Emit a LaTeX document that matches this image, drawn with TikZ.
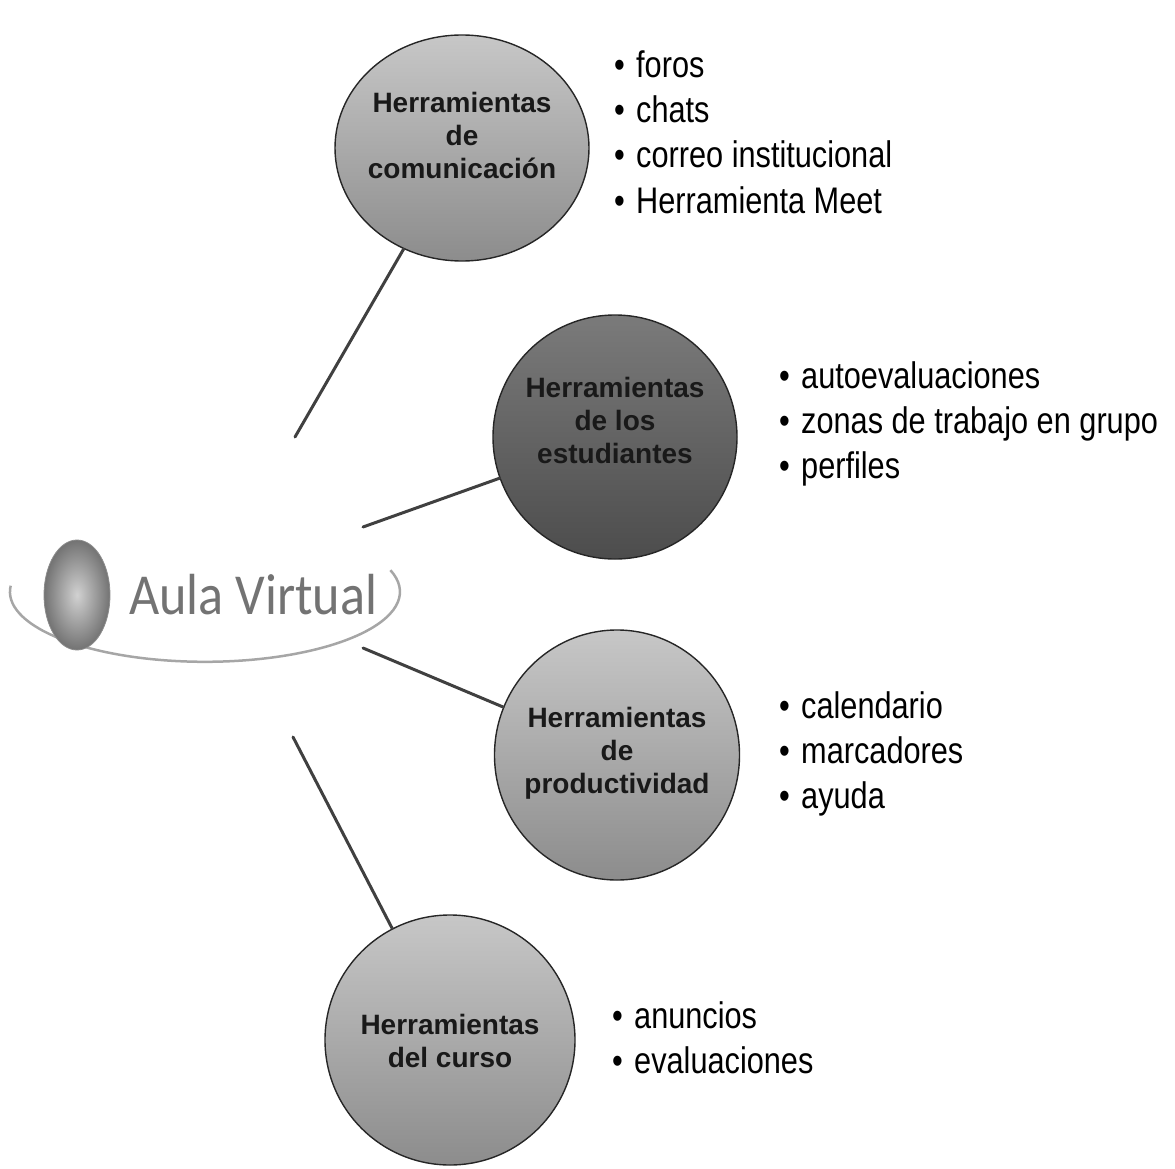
\documentclass[tikz,border=0pt]{standalone}
\usepackage{fontspec}
\setmainfont{Liberation Sans}
\newfontfamily\listfont[FakeStretch=0.83]{Liberation Sans}
\newfontfamily\aulafont[FakeStretch=0.9]{Carlito}
\usetikzlibrary{shapes.geometric}
\tikzset{
  bubble/.style={ellipse, draw=black!85, line width=1.4pt, inner sep=0pt},
  lightbubble/.style={bubble, top color=black!22, bottom color=black!45},
  darkbubble/.style={bubble, top color=black!52, bottom color=black!70},
  bubbletext/.style={align=center, inner sep=0pt, text=black!90,
    font=\fontsize{28}{33}\selectfont\bfseries},
  listitem/.style={anchor=base west, inner sep=0pt,
    font=\listfont\fontsize{37}{45}\selectfont},
  link/.style={draw=black!75, line width=3pt, line cap=round},
}
\newcommand{\itm}[1]{\makebox[22pt][l]{\textbullet}#1}
\begin{document}
\begin{tikzpicture}[x=1pt,y=-1pt]
\useasboundingbox (0,0) rectangle (1175,1169);

% central element
\draw[black!35, line width=2.5pt] (10.7,585.7) arc[start angle=185, end angle=-18, x radius=195, y radius=70];
\node[ellipse, minimum width=66pt, minimum height=110pt, inner sep=0pt,
      draw=black!45, line width=0.8pt, inner color=black!18, outer color=black!55] (ball) at (77,595) {};
\node[anchor=base west, inner sep=0pt, text=black!55,
      font=\aulafont\fontsize{58}{60}\selectfont] (aula) at (129,614) {Aula Virtual};

% connector free ends
\coordinate (e1) at (295,437);
\coordinate (e2) at (363,527);
\coordinate (e3) at (363,648);
\coordinate (e4) at (293,737);

% bubbles
\node[lightbubble, minimum width=254pt, minimum height=226pt] (c1) at (462,148) {};
\node[darkbubble,  minimum width=244pt, minimum height=244pt] (c2) at (615,437) {};
\node[lightbubble, minimum width=245pt, minimum height=250pt] (c3) at (617,755) {};
\node[lightbubble, minimum width=250pt, minimum height=250pt] (c4) at (450,1040) {};

\draw[link] (e1) -- (c1);
\draw[link] (e2) -- (c2);
\draw[link] (e3) -- (c3);
\draw[link] (e4) -- (c4);

\node[bubbletext] (t1) at (462,135) {Herramientas\\de\\comunicación};
\node[bubbletext] (t2) at (615,420) {Herramientas\\de los\\estudiantes};
\node[bubbletext] (t3) at (617,753) {Herramientas\\de\\productividad};
\node[bubbletext] (t4) at (450,1041) {Herramientas\\del curso};

% lists
\node[listitem] (l1a) at (614,78)  {\itm{foros}};
\node[listitem] (l1b) at (614,123) {\itm{chats}};
\node[listitem] (l1c) at (614,168) {\itm{correo institucional}};
\node[listitem] (l1d) at (614,214) {\itm{Herramienta Meet}};

\node[listitem] (l2a) at (779,388) {\itm{autoevaluaciones}};
\node[listitem] (l2b) at (779,433) {\itm{zonas de trabajo en grupo}};
\node[listitem] (l2c) at (779,478) {\itm{perfiles}};

\node[listitem] (l3a) at (779,718) {\itm{calendario}};
\node[listitem] (l3b) at (779,763) {\itm{marcadores}};
\node[listitem] (l3c) at (779,808) {\itm{ayuda}};

\node[listitem] (l4a) at (612,1028) {\itm{anuncios}};
\node[listitem] (l4b) at (612,1073) {\itm{evaluaciones}};
\end{tikzpicture}
\end{document}
